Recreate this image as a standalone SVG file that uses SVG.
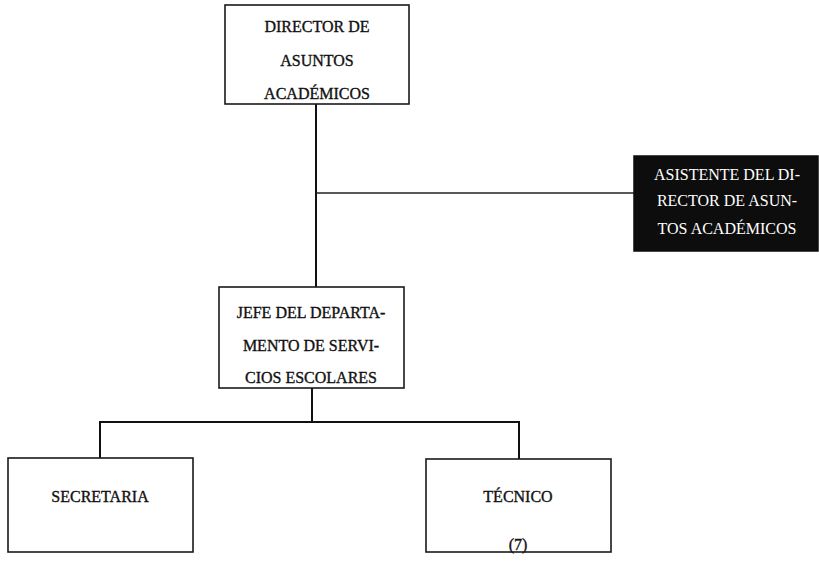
<svg xmlns="http://www.w3.org/2000/svg" width="819" height="561" viewBox="0 0 819 561">
<style>
.box{fill:#fff;stroke:#1a1a1a;stroke-width:1.6}
.dark{fill:#0d0d0d;stroke:#0d0d0d;stroke-width:1.5}
.t{font-family:"Liberation Serif","DejaVu Serif","Times New Roman",serif;font-size:16px;fill:#111;stroke:#111;stroke-width:0.35;text-anchor:middle}
.w{font-family:"Liberation Serif","DejaVu Serif","Times New Roman",serif;font-size:16px;fill:#fff;text-anchor:middle}
.c{fill:none;stroke:#111;stroke-width:2}
.thin{fill:none;stroke:#222;stroke-width:1.3}
</style>
<rect width="819" height="561" fill="#fff"/>
<g id="connectors">
<path class="c" d="M316 104 V287"/>
<path class="thin" d="M316 193 H634"/>
<path class="c" d="M312 388 V422"/>
<path class="c" d="M100 458 V422 H519 V459"/>
</g>
<g id="director">
<rect class="box" x="225" y="5" width="184" height="99"/>
<text class="t" x="317" y="32">DIRECTOR DE</text>
<text class="t" x="317" y="66">ASUNTOS</text>
<text class="t" x="317" y="99">ACADÉMICOS</text>
</g>
<g id="asistente">
<rect class="dark" x="634" y="156" width="184" height="95"/>
<text class="w" x="727" y="180">ASISTENTE DEL DI-</text>
<text class="w" x="727" y="206">RECTOR DE ASUN-</text>
<text class="w" x="727" y="234">TOS ACADÉMICOS</text>
</g>
<g id="jefe">
<rect class="box" x="219" y="287" width="185" height="101"/>
<text class="t" x="311" y="318">JEFE DEL DEPARTA-</text>
<text class="t" x="311" y="351">MENTO DE SERVI-</text>
<text class="t" x="311" y="383">CIOS ESCOLARES</text>
</g>
<g id="secretaria">
<rect class="box" x="8" y="458" width="185" height="94"/>
<text class="t" x="100" y="502">SECRETARIA</text>
</g>
<g id="tecnico">
<rect class="box" x="426" y="459" width="185" height="93"/>
<text class="t" x="518" y="502">TÉCNICO</text>
<text class="t" x="518" y="550">(7)</text>
</g>
</svg>
